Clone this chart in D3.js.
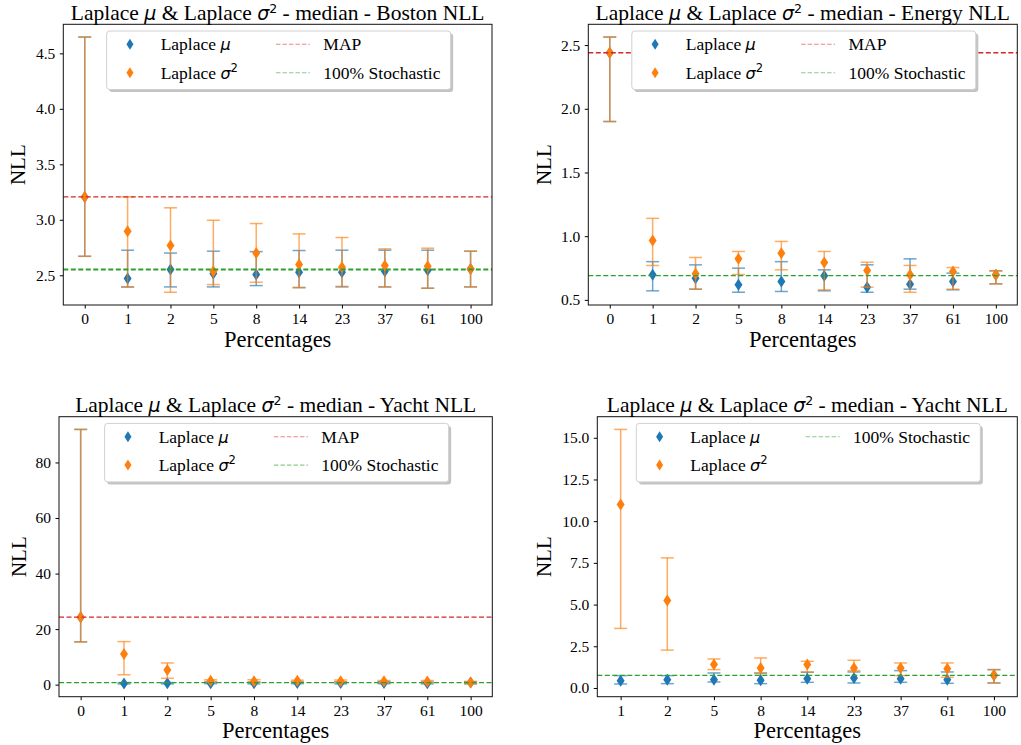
<!DOCTYPE html>
<html>
<head>
<meta charset="utf-8">
<script src="https://cdn.jsdelivr.net/npm/d3@7"></script>
<style>
  body { margin: 0; background: #fff; }
  svg { display: block; }
  text { font-family: 'Liberation Serif', serif; fill: #000; }
</style>
</head>
<body>
<div id="canvas"></div>
<script>
const percentages = ['0', '1', '2', '5', '8', '14', '23', '37', '61', '100'];

// Boston
const bostonMu        = [3.205, 2.470, 2.551, 2.515, 2.506, 2.527, 2.527, 2.536, 2.545, 2.557];
const bostonMuLow     = [2.671, 2.395, 2.395, 2.395, 2.407, 2.389, 2.395, 2.395, 2.383, 2.395];
const bostonMuHigh    = [4.647, 2.726, 2.700, 2.717, 2.713, 2.723, 2.726, 2.726, 2.726, 2.717];
const bostonSigma     = [3.205, 2.897, 2.768, 2.536, 2.700, 2.596, 2.572, 2.587, 2.581, 2.557];
const bostonSigmaLow  = [2.671, 2.392, 2.347, 2.416, 2.437, 2.389, 2.400, 2.395, 2.383, 2.395];
const bostonSigmaHigh = [4.647, 3.207, 3.108, 2.996, 2.966, 2.873, 2.840, 2.738, 2.744, 2.717];
const bostonMAP = 3.207;
const bostonStochastic = 2.551;

// Energy
const energyMu        = [2.440, 0.697, 0.670, 0.618, 0.644, 0.689, 0.600, 0.623, 0.644, 0.697];
const energyMuLow     = [1.900, 0.571, 0.584, 0.560, 0.566, 0.571, 0.560, 0.584, 0.579, 0.626];
const energyMuHigh    = [2.563, 0.800, 0.775, 0.749, 0.800, 0.736, 0.775, 0.822, 0.710, 0.728];
const energySigma     = [2.440, 0.967, 0.705, 0.822, 0.867, 0.794, 0.731, 0.697, 0.723, 0.697];
const energySigmaLow  = [1.900, 0.770, 0.584, 0.699, 0.736, 0.579, 0.600, 0.560, 0.584, 0.626];
const energySigmaHigh = [2.563, 1.140, 0.833, 0.880, 0.959, 0.880, 0.796, 0.770, 0.754, 0.728];
const energyMAP = 2.44;
const energyStochastic = 0.691;

// Yacht
const yachtMu        = [24.3, 0.44, 0.50, 0.50, 0.46, 0.56, 0.60, 0.56, 0.50, 0.76];
const yachtMuLow     = [15.4, 0.24, 0.26, 0.36, 0.26, 0.34, 0.30, 0.34, 0.28, 0.30];
const yachtMuHigh    = [91.9, 0.74, 0.74, 0.90, 0.90, 0.94, 0.96, 1.04, 0.96, 1.10];
const yachtSigma     = [24.3, 11.0, 5.25, 1.40, 1.20, 1.40, 1.20, 1.20, 1.16, 0.76];
const yachtSigmaLow  = [15.4, 3.57, 2.27, 1.10, 0.86, 0.96, 1.04, 0.74, 0.64, 0.30];
const yachtSigmaHigh = [91.9, 15.5, 7.80, 1.74, 1.80, 1.60, 1.66, 1.50, 1.50, 1.10];
const yachtMAP = 24.3;
const yachtStochastic = 0.76;

const bostonTicks = [2.5, 3.0, 3.5, 4.0, 4.5];
const energyTicks = [0.5, 1.0, 1.5, 2.0, 2.5];
const yachtTicks = [0, 20, 40, 60, 80];
const yachtZoomTicks = [0, 2.5, 5, 7.5, 10, 12.5, 15];

const blue = '#1f77b4';
const orange = '#ff7f0e';
const red = '#d62728';
const green = '#2ca02c';

const serif = "'Liberation Serif', serif";
const mathFont = "'DejaVu Sans', sans-serif";

const svg = d3.select('#canvas')
  .append('svg')
  .attr('width', 1021)
  .attr('height', 745);

function drawPanel(box, cats, mu, sigma, mapValue, stochValue, yTicks, yFormat, dataset) {
  const x = d3.scalePoint()
    .domain(cats)
    .range([box.left, box.right])
    .padding(0.5);

  const allVals = mu.low.concat(mu.high, sigma.low, sigma.high);
  const ext = d3.extent(allVals);
  const pad = (ext[1] - ext[0]) * 0.05;
  const y = d3.scaleLinear()
    .domain([ext[0] - pad, ext[1] + pad])
    .range([box.bottom, box.top]);

  const g = svg.append('g');

  // axes
  g.append('g')
    .attr('transform', 'translate(0,' + box.bottom + ')')
    .call(d3.axisBottom(x).tickSize(3.5).tickPadding(4.5))
    .call(a => a.select('.domain').remove())
    .call(a => a.selectAll('text').style('font-family', serif).style('font-size', '15.5px'));

  g.append('g')
    .attr('transform', 'translate(' + box.left + ',0)')
    .call(d3.axisLeft(y).tickValues(yTicks).tickFormat(d3.format(yFormat)).tickSize(3.5).tickPadding(4.5))
    .call(a => a.select('.domain').remove())
    .call(a => a.selectAll('text').style('font-family', serif).style('font-size', '15.5px'));

  // error bars + markers, blue first then orange
  [{ s: mu, color: blue }, { s: sigma, color: orange }].forEach(function(ser) {
    const idx = d3.range(cats.length);
    const eb = g.append('g')
      .attr('stroke', ser.color)
      .attr('stroke-opacity', 0.65)
      .attr('stroke-width', 1.5);
    eb.selectAll('line.v')
      .data(idx)
      .enter()
      .append('line')
      .attr('x1', i => x(cats[i]))
      .attr('x2', i => x(cats[i]))
      .attr('y1', i => y(ser.s.low[i]))
      .attr('y2', i => y(ser.s.high[i]));
    ['low', 'high'].forEach(function(k) {
      eb.selectAll('line.' + k)
        .data(idx)
        .enter()
        .append('line')
        .attr('x1', i => x(cats[i]) - 6.5)
        .attr('x2', i => x(cats[i]) + 6.5)
        .attr('y1', i => y(ser.s[k][i]))
        .attr('y2', i => y(ser.s[k][i]));
    });
    g.append('g')
      .selectAll('path')
      .data(idx)
      .enter()
      .append('path')
      .attr('d', 'M0,-6L4,0L0,6L-4,0Z')
      .attr('fill', ser.color)
      .attr('transform', i => 'translate(' + x(cats[i]) + ',' + y(ser.s.mid[i]) + ')');
  });

  // reference lines
  if (mapValue != null) {
    g.append('line')
      .attr('x1', box.left).attr('x2', box.right)
      .attr('y1', y(mapValue)).attr('y2', y(mapValue))
      .attr('stroke', red)
      .attr('stroke-width', 1.3)
      .attr('stroke-dasharray', '5,2.5');
  }
  g.append('line')
    .attr('x1', box.left).attr('x2', box.right)
    .attr('y1', y(stochValue)).attr('y2', y(stochValue))
    .attr('stroke', green)
    .attr('stroke-width', box.stochWidth || 1.3)
    .attr('stroke-dasharray', '5,2.5');

  // frame
  g.append('rect')
    .attr('x', box.left).attr('y', box.top)
    .attr('width', box.right - box.left)
    .attr('height', box.bottom - box.top)
    .attr('fill', 'none')
    .attr('stroke', '#111')
    .attr('stroke-width', 1);

  // title
  const cx = (box.left + box.right) / 2;
  const title = g.append('text')
    .attr('x', cx)
    .attr('y', box.top - 4.8)
    .attr('text-anchor', 'middle')
    .style('font-size', '21.5px');
  title.append('tspan').text('Laplace ');
  title.append('tspan').style('font-family', mathFont).style('font-style', 'italic').style('font-size', '19px').text('μ');
  title.append('tspan').text(' & Laplace ');
  title.append('tspan').style('font-family', mathFont).style('font-style', 'italic').style('font-size', '19px').text('σ');
  title.append('tspan').style('font-family', mathFont).style('font-size', '12.5px').attr('dy', -6.5).text('2');
  title.append('tspan').attr('dy', 6.5).text(' - median - ' + dataset + ' NLL');

  // axis labels
  g.append('text')
    .attr('x', cx)
    .attr('y', box.bottom + 41.7)
    .attr('text-anchor', 'middle')
    .style('font-size', '22.5px')
    .text('Percentages');
  g.append('text')
    .attr('transform', 'translate(' + box.ylabelX + ',' + ((box.top + box.bottom) / 2) + ') rotate(-90)')
    .attr('text-anchor', 'middle')
    .attr('dy', '0.35em')
    .style('font-size', '21px')
    .text('NLL');

  // legend
  const lw = 344, lh = 58.5;
  const lx = cx - lw / 2 + 1, ly = box.top + 6.7;
  const legend = g.append('g').attr('transform', 'translate(' + lx + ',' + ly + ')');
  legend.append('rect')
    .attr('x', 2.5).attr('y', 2.5).attr('width', lw).attr('height', lh)
    .attr('rx', 3).attr('fill', '#888').attr('fill-opacity', 0.5);
  legend.append('rect')
    .attr('x', 0).attr('y', 0).attr('width', lw).attr('height', lh)
    .attr('rx', 3).attr('fill', '#fff').attr('stroke', '#d0d0d0').attr('stroke-width', 1);

  const rows = [13.3, 41.7];
  [{ color: blue, sym: 'μ', sup: false }, { color: orange, sym: 'σ', sup: true }].forEach(function(e, i) {
    legend.append('path')
      .attr('d', 'M0,-5.5L3.5,0L0,5.5L-3.5,0Z')
      .attr('fill', e.color)
      .attr('transform', 'translate(23.3,' + rows[i] + ')');
    const t = legend.append('text')
      .attr('x', 54).attr('y', rows[i])
      .attr('dy', '0.35em')
      .style('font-size', '17.5px');
    t.append('tspan').text('Laplace ');
    t.append('tspan').style('font-family', mathFont).style('font-style', 'italic').style('font-size', '16px').text(e.sym);
    if (e.sup) {
      t.append('tspan').style('font-family', mathFont).style('font-size', '11.5px').attr('dy', '-0.6em').text('2');
    }
  });

  const lineEntries = [];
  if (mapValue != null) lineEntries.push({ color: red, label: 'MAP' });
  lineEntries.push({ color: green, label: '100% Stochastic' });
  lineEntries.forEach(function(e, i) {
    legend.append('line')
      .attr('x1', 169.3).attr('x2', 203.3)
      .attr('y1', rows[i]).attr('y2', rows[i])
      .attr('stroke', e.color)
      .attr('stroke-opacity', 0.55)
      .attr('stroke-width', 1.1)
      .attr('stroke-dasharray', '4.5,2');
    legend.append('text')
      .attr('x', 216.7).attr('y', rows[i])
      .attr('dy', '0.35em')
      .style('font-size', '17.5px')
      .text(e.label);
  });
}

drawPanel({ left: 63.3, right: 492, top: 24.3, bottom: 305, ylabelX: 18, stochWidth: 2 },
  percentages,
  { mid: bostonMu, low: bostonMuLow, high: bostonMuHigh },
  { mid: bostonSigma, low: bostonSigmaLow, high: bostonSigmaHigh },
  bostonMAP, bostonStochastic, bostonTicks, '.1f', 'Boston');

drawPanel({ left: 588.3, right: 1017.3, top: 24.3, bottom: 305, ylabelX: 543.3 },
  percentages,
  { mid: energyMu, low: energyMuLow, high: energyMuHigh },
  { mid: energySigma, low: energySigmaLow, high: energySigmaHigh },
  energyMAP, energyStochastic, energyTicks, '.1f', 'Energy');

drawPanel({ left: 59, right: 492.3, top: 416.7, bottom: 696.7, ylabelX: 18.3 },
  percentages,
  { mid: yachtMu, low: yachtMuLow, high: yachtMuHigh },
  { mid: yachtSigma, low: yachtSigmaLow, high: yachtSigmaHigh },
  yachtMAP, yachtStochastic, yachtTicks, 'd', 'Yacht');

drawPanel({ left: 597.3, right: 1017.3, top: 416.7, bottom: 696.7, ylabelX: 543.3 },
  percentages.slice(1),
  { mid: yachtMu.slice(1), low: yachtMuLow.slice(1), high: yachtMuHigh.slice(1) },
  { mid: yachtSigma.slice(1), low: yachtSigmaLow.slice(1), high: yachtSigmaHigh.slice(1) },
  null, yachtStochastic, yachtZoomTicks, '.1f', 'Yacht');
</script>
</body>
</html>
